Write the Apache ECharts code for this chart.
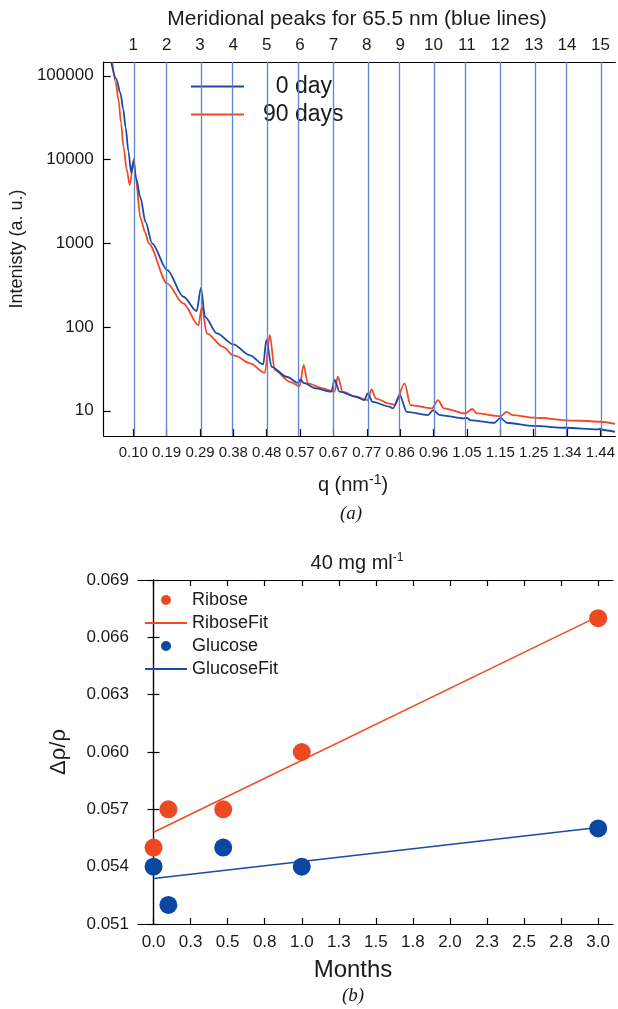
<!DOCTYPE html>
<html><head><meta charset="utf-8">
<script src="https://cdn.jsdelivr.net/npm/echarts@6/dist/echarts.min.js"></script>
<style>html,body{margin:0;padding:0;background:#fff}#c{width:618px;height:1009px}</style>
</head><body><div id="c"></div>
<script>
// ---------- panel (a) ----------
const peakOrders = ['1','2','3','4','5','6','7','8','9','10','11','12','13','14','15'];
const peakQ = [0.0958,0.1916,0.2874,0.3832,0.4790,0.5748,0.6706,0.7664,0.8622,0.9580,1.0538,1.1496,1.2454,1.3412,1.4370];
const peakQLabels = ['0.10','0.19','0.29','0.38','0.48','0.57','0.67','0.77','0.86','0.96','1.05','1.15','1.25','1.34','1.44'];
const intensityTicks = [10,100,1000,10000,100000];

const qDay0 = [0.0328,0.047,0.059,0.067,0.074,0.082,0.090,0.097,0.104,0.1165,0.131,0.150,
  0.193,0.240,0.278,0.290,0.302,0.336,0.383,0.431,0.469,0.478,0.493,
  0.536,0.569,0.576,0.585,0.621,0.664,0.674,0.688,0.736,0.759,0.769,0.783,
  0.831,0.841,0.861,0.881,0.942,0.957,0.976,1.044,1.053,1.066,
  1.133,1.150,1.168,1.246,1.336,1.430,1.436,1.445,1.479];
const intensityDay0 = [145000,92000,62000,40000,24000,12500,6900,9500,6000,3500,1800,1000,
  480,230,155,294,132,84,62,46,35.8,70,33.5,
  25.5,21.6,23.7,21.5,18.5,16.9,23.3,16.9,14.7,13.4,16.1,12.8,
  11.2,10.7,15.4,9.7,8.9,10.2,8.9,8.1,8.2,7.7,
  7.2,8.25,7.2,6.6,6.27,6.0,6.1,5.9,5.6];

const qDay90 = [0.0356,0.045,0.0536,0.061,0.0679,0.077,0.0859,0.0973,0.103,0.1165,0.130,0.140,
  0.193,0.240,0.283,0.293,0.307,0.354,0.383,0.391,0.431,0.4735,0.4878,0.502,
  0.545,0.5735,0.585,0.597,0.640,0.6735,0.683,0.697,0.7355,0.7686,0.780,0.7926,
  0.8305,0.8468,0.8748,0.8917,0.9534,0.9705,0.9876,1.0491,1.0694,1.082,
  1.1504,1.1676,1.1847,1.2458,1.270,1.3361,1.380,1.4359,1.479];
const intensityDay90 = [145000,84000,51300,27000,14100,7600,4960,10300,6000,2000,1350,1000,
  332,191,105,175,84,58,46,45,36.8,28.4,80,30.6,
  22.2,19.7,35.2,21.2,18.5,16.9,25.5,16.9,14.7,13.4,18,14,
  12.2,11.8,21.2,11.7,10.7,13.4,10.7,9.3,10.5,9.3,
  8.6,9.7,8.9,8.3,8.2,7.7,7.6,7.4,7.0];

// ---------- panel (b) ----------
const months = [0,0.1,0.47,1,3];
const riboseValues = [0.055,0.057,0.057,0.060,0.067];
const glucoseValues = [0.054,0.052,0.055,0.054,0.056];
const fitMonths = [0,3];
const riboseFitValues = [0.0558,0.0671];
const glucoseFitValues = [0.05338,0.05605];
const monthTicks = [0,0.25,0.5,0.75,1,1.25,1.5,1.75,2,2.25,2.5,2.75,3];

const FONT = 'Liberation Sans, Arial, sans-serif';
const TXT = '#1a1a1a';
const RED = '#EE4B26', BLUE = '#1B4AA6', RED_DOT = '#EE4A22', BLUE_DOT = '#0A47A3', PEAK_LINE = '#5F84CF';
const HIDE_SYMBOL = {color: 'rgba(0,0,0,0)', borderWidth: 0};

function pairs(xs, ys){ return xs.map((x,i)=>[x, ys[i]]); }
function lookup(v, vals, labels){
  for (let i=0;i<vals.length;i++) if (Math.abs(vals[i]-v) < 1e-6) return labels[i];
  return '';
}

const chart = echarts.init(document.getElementById('c'), null, {renderer:'canvas'});
const option = {
  backgroundColor: '#fff',
  animation: false,
  textStyle: {fontFamily: FONT, color: TXT},
  grid: [
    {left: 103, right: 0, top: 62, height: 374},
    {left: 138, right: 5, top: 580, height: 344}
  ],
  legend: [
    {
      orient: 'vertical', left: 190, top: 75, padding: 0, itemWidth: 53, itemHeight: 14, itemGap: 5,
      data: [{name:'0 day', itemStyle: HIDE_SYMBOL}, {name:'90 days', itemStyle: HIDE_SYMBOL}],
      formatter: function(n){ return n === '0 day' ? '  0 day' : n; },
      textStyle: {fontFamily: FONT, fontSize: 23, color: TXT, padding: [0,0,0,14]}
    },
    {
      orient: 'vertical', left: 144, top: 591, padding: 0, itemWidth: 42, itemHeight: 10, itemGap: 5,
      data: [{name:'Ribose', icon:'circle'}, {name:'RiboseFit', itemStyle: HIDE_SYMBOL},
             {name:'Glucose', icon:'circle'}, {name:'GlucoseFit', itemStyle: HIDE_SYMBOL}],
      textStyle: {fontFamily: FONT, fontSize: 18, color: TXT}
    }
  ],
  xAxis: [
    {
      gridIndex: 0, type: 'value', position: 'bottom', min: 0.0108, max: 1.4798,
      axisLine: {show: true, onZero: false, lineStyle: {color: '#000', width: 1.2}},
      axisTick: {show: true, inside: true, length: 7, customValues: peakQ, lineStyle: {color: '#000', width: 1.2}},
      axisLabel: {customValues: peakQ, fontSize: 15, color: TXT, margin: 9,
        formatter: function(v){ return lookup(v, peakQ, peakQLabels); }},
      splitLine: {show: false}
    },
    {
      gridIndex: 0, type: 'value', position: 'top', min: 0.0108, max: 1.4798,
      axisLine: {show: true, onZero: false, lineStyle: {color: '#000', width: 1.2}},
      axisTick: {show: false},
      axisLabel: {customValues: peakQ, fontSize: 17, color: TXT, margin: 8,
        formatter: function(v){ return lookup(v, peakQ, peakOrders); }},
      splitLine: {show: false}
    },
    {
      gridIndex: 1, type: 'value', position: 'bottom', min: -0.105, max: 3.1,
      axisLine: {show: true, onZero: false, lineStyle: {color: '#000', width: 1.2}},
      axisTick: {show: true, inside: true, length: 6, customValues: monthTicks, lineStyle: {color: '#000', width: 1.2}},
      axisLabel: {customValues: monthTicks, fontSize: 17, color: TXT, margin: 10,
        formatter: function(v){ return v.toFixed(1); }},
      splitLine: {show: false}
    },
    {
      gridIndex: 1, type: 'value', position: 'top', min: -0.105, max: 3.1,
      axisLine: {show: true, onZero: false, lineStyle: {color: '#000', width: 1.2}},
      axisTick: {show: true, inside: true, length: 6, customValues: monthTicks, lineStyle: {color: '#000', width: 1.2}},
      axisLabel: {show: false},
      splitLine: {show: false}
    }
  ],
  yAxis: [
    {
      gridIndex: 0, type: 'log', logBase: 10, min: 5, max: 146000,
      name: 'Intenisty (a. u.)', nameLocation: 'middle', nameGap: 70,
      nameTextStyle: {fontSize: 18, color: TXT, fontFamily: FONT},
      axisLine: {show: true, lineStyle: {color: '#000', width: 1.2}},
      axisTick: {show: true, inside: true, length: 7, customValues: intensityTicks, lineStyle: {color: '#000', width: 1.2}},
      axisLabel: {customValues: intensityTicks, fontSize: 17, color: TXT, margin: 10,
        formatter: function(v){ return String(Math.round(v)); }},
      minorTick: {show: false},
      splitLine: {show: false}
    },
    {
      gridIndex: 1, type: 'value', min: 0.051, max: 0.069, interval: 0.003,
      name: 'Δρ/ρ', nameLocation: 'middle', nameGap: 68,
      nameTextStyle: {fontSize: 22, color: TXT, fontFamily: FONT},
      axisLine: {show: true, lineStyle: {color: '#000', width: 1.2}},
      axisTick: {show: true, inside: true, length: 6, lineStyle: {color: '#000', width: 1.2}},
      axisLabel: {fontSize: 17, color: TXT, margin: 9, formatter: function(v){ return v.toFixed(3); }},
      splitLine: {show: false}
    },
    {
      gridIndex: 1, type: 'value', position: 'right', min: 0.051, max: 0.069, interval: 0.003,
      axisLine: {show: true, lineStyle: {color: '#000', width: 1.2}},
      axisTick: {show: true, inside: true, length: 6, lineStyle: {color: '#000', width: 1.2}},
      axisLabel: {show: false},
      splitLine: {show: false}
    }
  ],
  series: [
    {
      name: '0 day', type: 'line', xAxisIndex: 0, yAxisIndex: 0,
      data: pairs(qDay0, intensityDay0), symbol: 'none', smooth: 0.3, smoothMonotone: 'x',
      lineStyle: {color: BLUE, width: 1.8}, itemStyle: {color: BLUE}, z: 3,
      markLine: {
        silent: true, symbol: 'none', label: {show: false},
        lineStyle: {color: PEAK_LINE, width: 1.3, type: 'solid'},
        data: peakQ.map(function(q){ return {xAxis: q}; })
      }
    },
    {
      name: '90 days', type: 'line', xAxisIndex: 0, yAxisIndex: 0,
      data: pairs(qDay90, intensityDay90), symbol: 'none', smooth: 0.3, smoothMonotone: 'x',
      lineStyle: {color: RED, width: 1.8}, itemStyle: {color: RED}, z: 2
    },
    {
      name: 'RiboseFit', type: 'line', xAxisIndex: 2, yAxisIndex: 1,
      data: pairs(fitMonths, riboseFitValues), symbol: 'none',
      lineStyle: {color: RED, width: 1.5}, itemStyle: {color: RED}, z: 2
    },
    {
      name: 'GlucoseFit', type: 'line', xAxisIndex: 2, yAxisIndex: 1,
      data: pairs(fitMonths, glucoseFitValues), symbol: 'none',
      lineStyle: {color: BLUE, width: 1.5}, itemStyle: {color: BLUE}, z: 2
    },
    {
      name: 'Ribose', type: 'scatter', xAxisIndex: 2, yAxisIndex: 1,
      data: pairs(months, riboseValues), symbol: 'circle', symbolSize: 18,
      itemStyle: {color: RED_DOT, opacity: 1}, z: 3
    },
    {
      name: 'Glucose', type: 'scatter', xAxisIndex: 2, yAxisIndex: 1,
      data: pairs(months, glucoseValues), symbol: 'circle', symbolSize: 18,
      itemStyle: {color: BLUE_DOT, opacity: 1}, z: 3
    }
  ],
  graphic: [
    {type: 'text', x: 357, y: 19, style: {text: 'Meridional peaks for 65.5 nm (blue lines)', fontSize: 21, fontFamily: FONT, fill: TXT, align: 'center', verticalAlign: 'middle'}},
    {type: 'text', x: 353, y: 485, style: {text: '{a|q (nm}{s|-1}{a|)}', fill: TXT, align: 'center', verticalAlign: 'middle',
      rich: {a: {fontSize: 20, fontFamily: FONT, fill: TXT, lineHeight: 23}, s: {fontSize: 14, fontFamily: FONT, fill: TXT, lineHeight: 14, verticalAlign: 'top'}}}},
    {type: 'text', x: 351, y: 514, style: {text: '(a)', fontSize: 19, fontFamily: 'Liberation Serif, serif', fontStyle: 'italic', fill: TXT, align: 'center', verticalAlign: 'middle'}},
    {type: 'text', x: 357, y: 563, style: {text: '{a|40 mg ml}{s|-1}', fill: TXT, align: 'center', verticalAlign: 'middle',
      rich: {a: {fontSize: 20, fontFamily: FONT, fill: TXT, lineHeight: 23}, s: {fontSize: 12, fontFamily: FONT, fill: TXT, lineHeight: 12, verticalAlign: 'top'}}}},
    {type: 'text', x: 353, y: 970, style: {text: 'Months', fontSize: 24, fontFamily: FONT, fill: TXT, align: 'center', verticalAlign: 'middle'}},
    {type: 'text', x: 353, y: 996, style: {text: '(b)', fontSize: 19, fontFamily: 'Liberation Serif, serif', fontStyle: 'italic', fill: TXT, align: 'center', verticalAlign: 'middle'}}
  ]
};
chart.setOption(option);
</script>
</body></html>
